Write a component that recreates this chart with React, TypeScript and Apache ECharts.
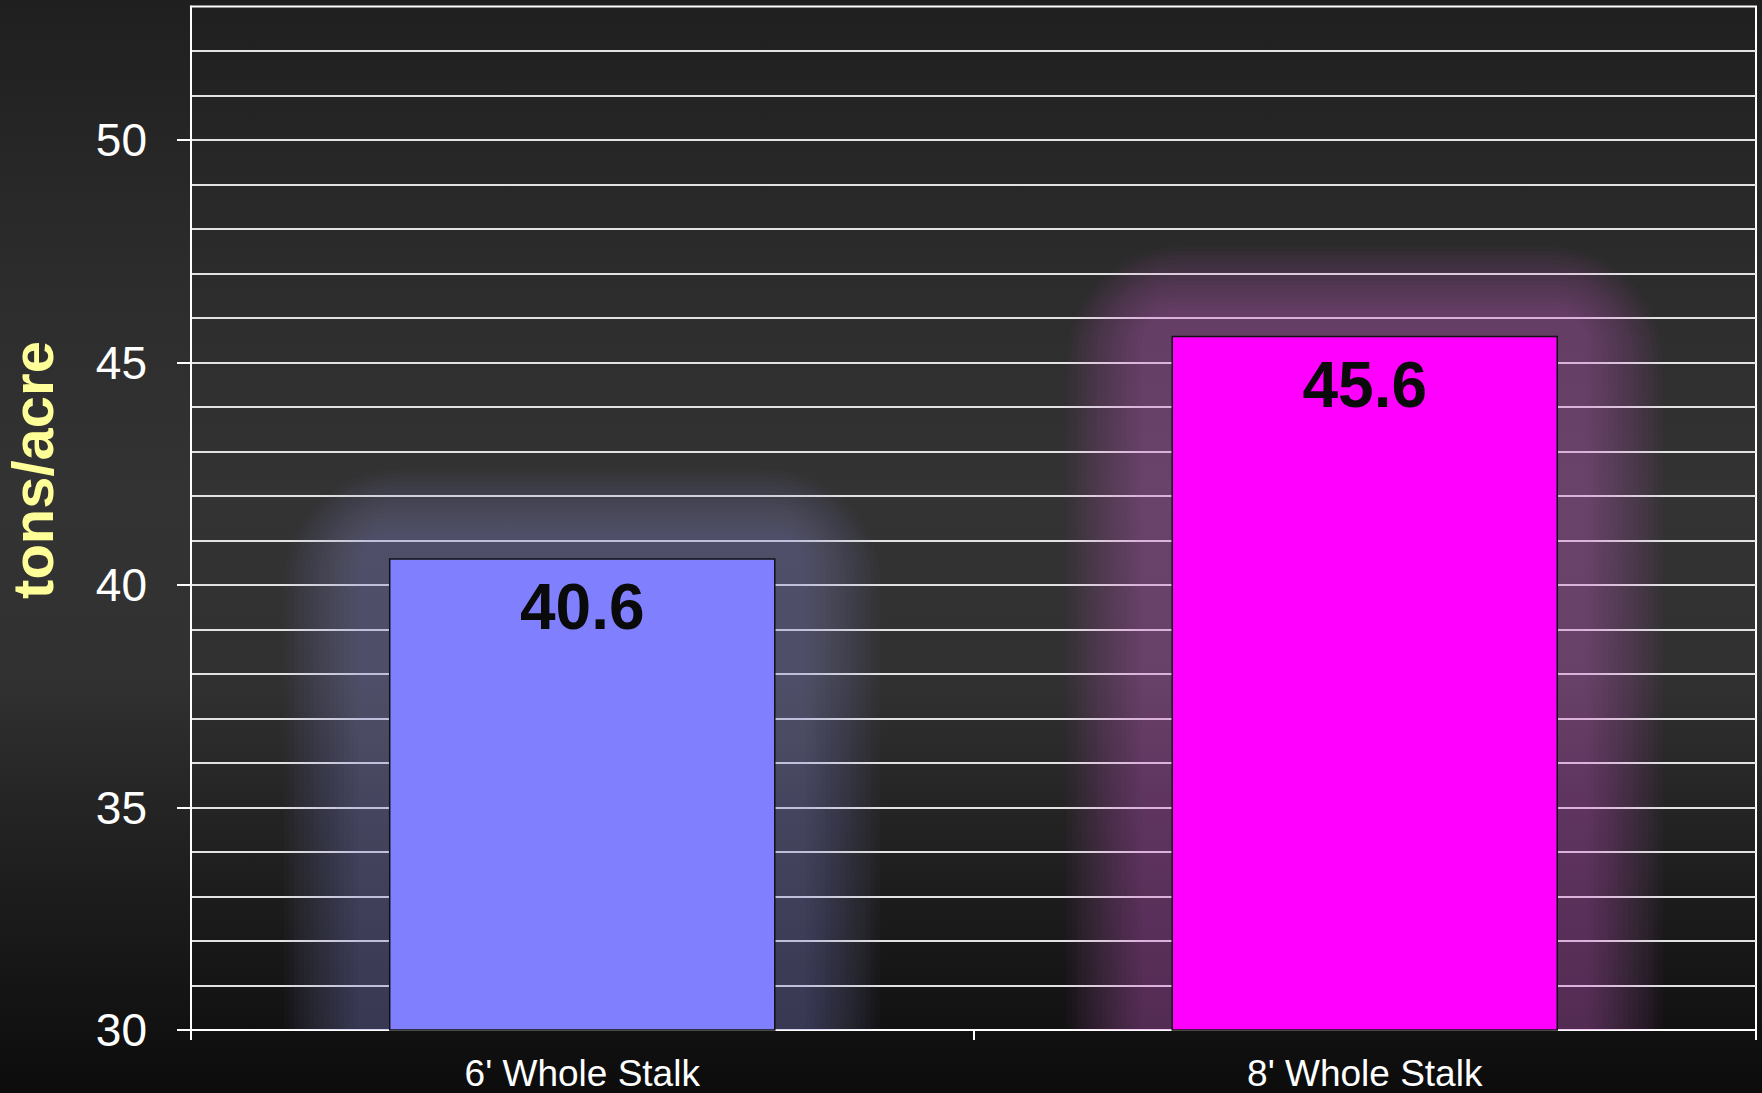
import React, { useEffect, useRef } from "react";
import * as echarts from "echarts";

const categories = ["6' Whole Stalk", "8' Whole Stalk"];
const values = [40.6, 45.6];
const barColors = ["#8080FF", "#FF00FF"];
const glowColors = ["140,140,230", "225,100,225"];
const yTicks = [30, 35, 40, 45, 50];
const yMin = 30;
const yMax = 53;
const yTitle = "tons/acre";

const FONT = "'Liberation Sans', Arial, Helvetica, sans-serif";
const BAR_FRACTION = 0.494;

export default function App() {
  const ref = useRef<HTMLDivElement>(null);

  useEffect(() => {
    if (!ref.current) return;
    const chart = echarts.init(ref.current, null, { renderer: "svg" });
    const glowLayers: number[] = [];
    for (let e = 30; e <= 105; e += 5) glowLayers.push(e);

    chart.setOption({
      animation: false,
      textStyle: { fontFamily: FONT },
      grid: {
        left: 191,
        top: 6.5,
        right: 6,
        bottom: 63,
        show: true,
        borderColor: "#ffffff",
        borderWidth: 2,
        backgroundColor: "transparent",
      },
      xAxis: {
        type: "category",
        data: categories,
        axisLine: { show: true, lineStyle: { color: "#ffffff", width: 2 } },
        axisTick: { show: true, length: 10, lineStyle: { color: "#ffffff", width: 2 } },
        axisLabel: { color: "#ffffff", fontSize: 37, margin: 25, fontFamily: FONT },
        splitLine: { show: false },
      },
      yAxis: {
        type: "value",
        min: yMin,
        max: yMax,
        interval: 5,
        axisLine: { show: true, lineStyle: { color: "#ffffff", width: 2 } },
        axisTick: {
          show: true,
          length: 14,
          lineStyle: { color: "#ffffff", width: 2 },
          customValues: yTicks,
        },
        axisLabel: {
          color: "#ffffff",
          fontSize: 46,
          margin: 44,
          fontFamily: FONT,
          customValues: yTicks,
          formatter: (v: number) => (yTicks.indexOf(v) >= 0 ? String(v) : ""),
        },
        splitLine: { show: true, lineStyle: { color: "#e2e2e2", width: 2 } },
        minorTick: { show: false, splitNumber: 5 },
        minorSplitLine: { show: true, lineStyle: { color: "#e2e2e2", width: 2 } },
      },
      graphic: [
        {
          type: "text",
          x: 32,
          y: 470,
          rotation: Math.PI / 2,
          style: {
            text: yTitle,
            fill: "#FFFF99",
            font: `bold 58px ${FONT}`,
            textAlign: "center",
            textVerticalAlign: "middle",
            verticalAlign: "middle",
          },
        },
      ],
      series: [
        {
          type: "custom",
          z: 1,
          silent: true,
          clip: true,
          data: values.map((v, i) => [i, v]),
          encode: { x: 0, y: 1 },
          renderItem: (params: any, api: any) => {
            const i = api.value(0);
            const v = api.value(1);
            const top = api.coord([i, v]);
            const base = api.coord([i, yMin]);
            const bw = api.size([1, 0])[0] * BAR_FRACTION;
            const c = glowColors[params.dataIndex];
            return {
              type: "group",
              children: glowLayers.map((e) => {
                const et = e * 0.85;
                return {
                  type: "rect",
                  shape: {
                    x: top[0] - bw / 2 - e,
                    y: top[1] - et,
                    width: bw + 2 * e,
                    height: base[1] - top[1] + et + 120,
                    r: e * 1.1,
                  },
                  style: { fill: `rgba(${c},0.028)` },
                };
              }),
            };
          },
        },
        {
          type: "bar",
          z: 2,
          barWidth: `${BAR_FRACTION * 100}%`,
          data: values.map((v, i) => ({
            value: v,
            itemStyle: { color: barColors[i] },
          })),
          itemStyle: { borderColor: "#111111", borderWidth: 1.5 },
          label: {
            show: true,
            position: "insideTop",
            distance: 17,
            fontSize: 64,
            fontWeight: "bold",
            color: "#0a0a0a",
            fontFamily: FONT,
          },
        },
      ],
    });

    return () => chart.dispose();
  }, []);

  return (
    <div
      ref={ref}
      style={{
        position: "fixed",
        left: 0,
        top: 0,
        width: 1762,
        height: 1093,
        background:
          "linear-gradient(to bottom, #1f1f1f 0%, #2c2c2c 25%, #333333 45%, #313131 62%, #262626 72%, #1e1e1e 80%, #151515 90%, #0c0c0c 100%)",
      }}
    />
  );
}
